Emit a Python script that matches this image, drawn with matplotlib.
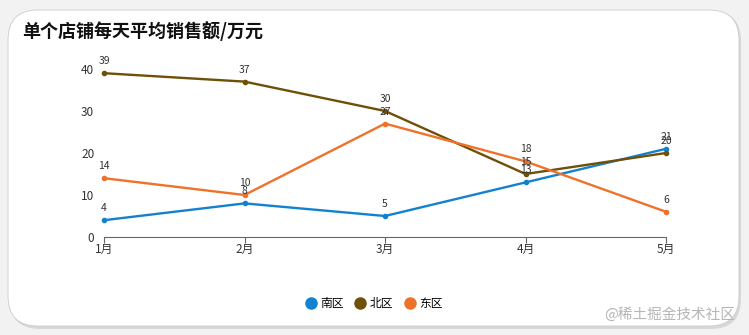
import numpy as np
import matplotlib.pyplot as plt
from matplotlib.patches import FancyBboxPatch

plt.rcParams['font.family'] = ['Noto Sans CJK SC', 'DejaVu Sans']

# dados
meses = ['1月', '2月', '3月', '4月', '5月']
sul = [4, 8, 5, 13, 21]
norte = [39, 37, 30, 15, 20]
leste = [14, 10, 27, 18, 6]
nomes = ['南区', '北区', '东区']
cores = ['#1282cf', '#6e5006', '#f0712a']

fig = plt.figure(figsize=(7.49, 3.35), dpi=100)
fig.patch.set_facecolor('#f2f2f2')

# cartão branco com sombra
sombra = FancyBboxPatch((10 / 749, 6 / 335), 731 / 749, 318 / 335,
                        boxstyle='round,pad=0,rounding_size=0.04',
                        transform=fig.transFigure, facecolor='#d8d8d8',
                        edgecolor='none', mutation_aspect=749 / 335, zorder=0)
cartao = FancyBboxPatch((8 / 749, 9 / 335), 731 / 749, 316 / 335,
                        boxstyle='round,pad=0,rounding_size=0.04',
                        transform=fig.transFigure, facecolor='white',
                        edgecolor='#cccccc', linewidth=0.6,
                        mutation_aspect=749 / 335, zorder=1)
fig.patches.extend([sombra, cartao])

ax = fig.add_axes([104 / 749, 98 / 335, 562 / 749, 168 / 335])
ax.set_facecolor('none')
ax.set_zorder(2)

x = np.arange(len(meses))
for serie, nome, cor in zip([sul, norte, leste], nomes, cores):
    ax.plot(x, serie, color=cor, lw=1.7, marker='o', ms=3, label=nome, clip_on=False)
    for xi, yi in zip(x, serie):
        ax.annotate(str(yi), (xi, yi), xytext=(0, 5), textcoords='offset points',
                    ha='center', va='bottom', fontsize=7.5, color='#333333')

ax.set_xlim(0, 4)
ax.set_ylim(0, 40)
ax.set_xticks(x)
ax.set_xticklabels(meses, fontsize=8.5, color='#333333')
ax.set_yticks([0, 10, 20, 30, 40])
ax.tick_params(axis='y', length=0, pad=7, labelsize=8.5, labelcolor='#333333')
ax.tick_params(axis='x', length=4, color='#666666', pad=0.5)
for lado in ['top', 'right', 'left']:
    ax.spines[lado].set_visible(False)
ax.spines['bottom'].set_color('#666666')

fig.text(22 / 749, 1 - 31 / 335, '单个店铺每天平均销售额/万元', fontsize=13,
         fontweight='bold', va='center', ha='left', color='#111111', zorder=3)

leg = fig.legend(loc='center', bbox_to_anchor=(0.5, 1 - 304 / 335), ncol=3,
                 frameon=False, fontsize=8.5, handlelength=0.8, handletextpad=0.4,
                 columnspacing=1.0)
for h in leg.legend_handles:
    h.set_linestyle('none')
    h.set_markersize(8)

fig.text(735 / 749, 1 - 314 / 335, '@稀土掘金技术社区', fontsize=10.5,
         color='#b5b5b5', ha='right', va='center', zorder=3)

fig.savefig('out.png', dpi=100)
